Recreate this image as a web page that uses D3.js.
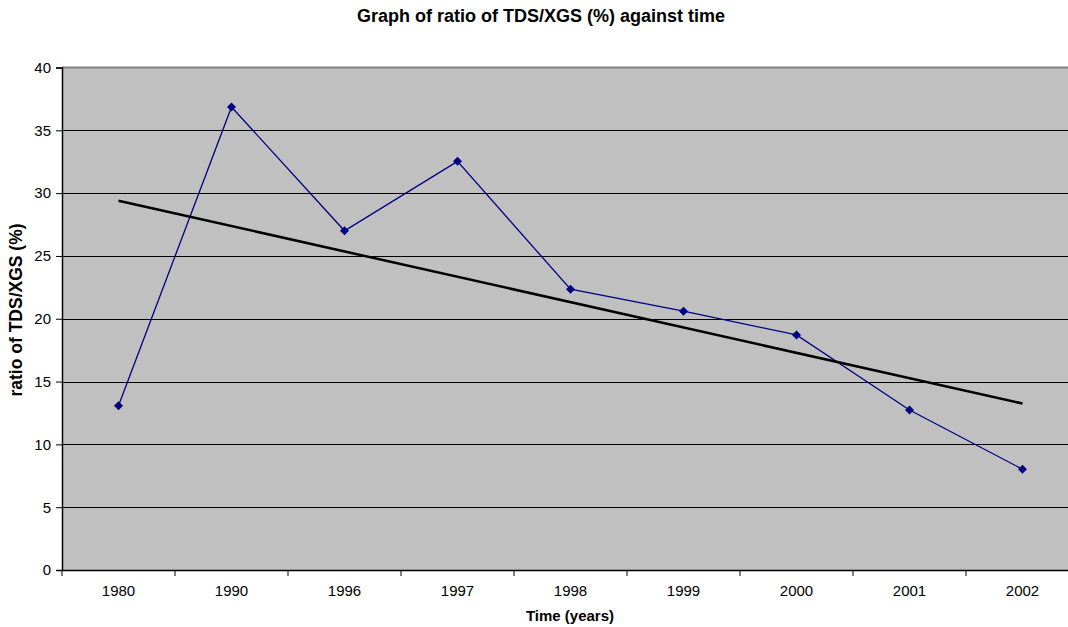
<!DOCTYPE html>
<html><head><meta charset="utf-8">
<script src="https://cdn.jsdelivr.net/npm/d3@7"></script>
<style>body{margin:0;background:#fff}svg{display:block;font-family:"Liberation Sans",Arial,sans-serif}</style>
</head><body><svg id="c" width="1068" height="627"></svg>
<script>
const categories = ["1980","1990","1996","1997","1998","1999","2000","2001","2002"];
const ratioValues = [13.08, 36.86, 27.0, 32.53, 22.35, 20.6, 18.71, 12.74, 8.02];
const yTicks = [0,5,10,15,20,25,30,35,40];

const svg = d3.select("#c");
const L = 62, R = 1079, T = 67.5, B = 570;
const x = d3.scaleBand().domain(categories).range([L, R]);
const y = d3.scaleLinear().domain([0, 40]).range([B, T]);

svg.append("rect").attr("x", L).attr("y", T).attr("width", R - L).attr("height", B - T).attr("fill", "#c0c0c0");

svg.append("g").selectAll("line").data(yTicks.filter(d => d > 0 && d < 40)).join("line")
  .attr("x1", L).attr("x2", R).attr("y1", d => Math.round(y(d)) + 0.5).attr("y2", d => Math.round(y(d)) + 0.5)
  .attr("stroke", "#000").attr("stroke-width", 1);
svg.append("line").attr("x1", L).attr("x2", R).attr("y1", T).attr("y2", T).attr("stroke", "#808080").attr("stroke-width", 2);

const yAxis = svg.append("g").attr("transform", `translate(${L},0)`)
  .call(d3.axisLeft(y).tickValues(yTicks).tickSize(6).tickPadding(5).tickFormat(d3.format("d")));
yAxis.select(".domain").attr("stroke", "#000").attr("stroke-width", 1.5);
yAxis.selectAll(".tick line").attr("stroke", "#000");
yAxis.selectAll("text").attr("font-size", 15).attr("fill", "#000").attr("font-family", "Liberation Sans, Arial, sans-serif");

const xAxis = svg.append("g").attr("transform", `translate(0,${B})`)
  .call(d3.axisBottom(x).tickSize(0).tickPadding(15));
xAxis.select(".domain").attr("stroke", "#000").attr("stroke-width", 1.5);
xAxis.selectAll("text").attr("font-size", 15).attr("fill", "#000").attr("font-family", "Liberation Sans, Arial, sans-serif");
svg.append("g").selectAll("line").data(categories).join("line")
  .attr("x1", d => x(d)).attr("x2", d => x(d)).attr("y1", B).attr("y2", B + 6)
  .attr("stroke", "#000").attr("stroke-width", 1);

const cx = d => x(d) + x.bandwidth() / 2;
const pts = categories.map((c, i) => ({c, v: ratioValues[i], i}));

svg.append("path").datum(pts)
  .attr("d", d3.line().x(d => cx(d.c)).y(d => y(d.v)))
  .attr("fill", "none").attr("stroke", "#000080").attr("stroke-width", 1.3);

const n = pts.length;
const xs = pts.map(d => d.i + 1);
const mx = d3.mean(xs), my = d3.mean(ratioValues);
const slope = d3.sum(pts, d => (d.i + 1 - mx) * (d.v - my)) / d3.sum(xs, v => (v - mx) ** 2);
const icpt = my - slope * mx;
const trend = [pts[0], pts[n - 1]].map(d => ({c: d.c, v: icpt + slope * (d.i + 1)}));
svg.append("path").datum(trend)
  .attr("d", d3.line().x(d => cx(d.c)).y(d => y(d.v)))
  .attr("fill", "none").attr("stroke", "#000").attr("stroke-width", 2.5);

svg.append("g").selectAll("path").data(pts).join("path")
  .attr("transform", d => `translate(${cx(d.c)},${y(d.v)})`)
  .attr("d", "M0,-4.5L4.5,0L0,4.5L-4.5,0Z").attr("fill", "#000080");

svg.append("text").attr("x", 541).attr("y", 22).attr("text-anchor", "middle")
  .attr("font-size", 18).attr("font-weight", "bold").text("Graph of ratio of TDS/XGS (%) against time");
svg.append("text").attr("x", 570).attr("y", 621).attr("text-anchor", "middle")
  .attr("font-size", 15).attr("font-weight", "bold").text("Time (years)");
svg.append("text").attr("transform", `translate(22,310) rotate(-90)`).attr("text-anchor", "middle")
  .attr("font-size", 17.5).attr("font-weight", "bold").text("ratio of TDS/XGS (%)");
</script></body></html>
